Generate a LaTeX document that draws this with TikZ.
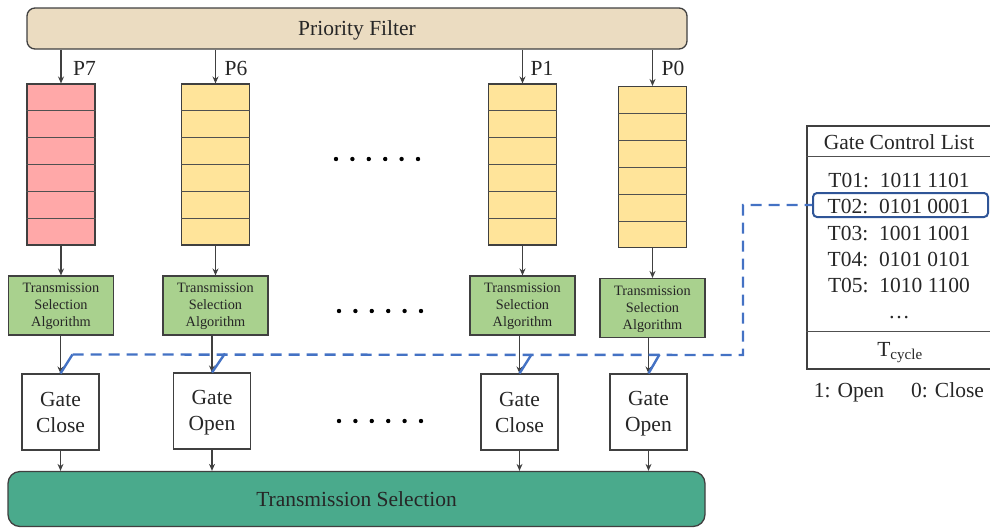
\documentclass[tikz,border=0pt]{standalone}
\usepackage{fontspec}
\setmainfont{Liberation Serif}[Ligatures=TeX]
\usetikzlibrary{arrows.meta,calc}
\definecolor{filtertan}{HTML}{EBDCC1}
\definecolor{queuepink}{HTML}{FFA8A8}
\definecolor{queueyellow}{HTML}{FFE49A}
\definecolor{tsagreen}{HTML}{A9D18E}
\definecolor{selteal}{HTML}{4AAA8C}
\definecolor{edgegray}{HTML}{404040}
\definecolor{cellgray}{HTML}{505050}
\definecolor{textgray}{HTML}{262626}
\definecolor{linkblue}{HTML}{4472C4}
\definecolor{rowblue}{HTML}{2F5597}
% struts that keep every line of a box at the same height
\newcommand\gstrut{\rule[-3.8pt]{0pt}{22pt}}
\newcommand\tstrut{\rule[-2pt]{0pt}{14pt}}

\begin{document}
\begin{tikzpicture}[x=1pt,y=-1pt,
  big/.style={font=\fontsize{21.5}{26}\selectfont, text=textgray},
  bar/.style={draw=edgegray, line width=1.3pt, inner sep=0pt, big},
  queuebox/.style={draw=edgegray, line width=1.1pt, minimum width=68pt, minimum height=161pt, inner sep=0pt},
  tsabox/.style={draw=edgegray, line width=1.1pt, fill=tsagreen, minimum width=105pt, minimum height=59pt, inner sep=0pt, align=center, font=\fontsize{14.3}{17}\selectfont, text=textgray},
  gatebox/.style={draw=edgegray, line width=1.1pt, fill=white, minimum width=77pt, minimum height=76pt, inner sep=0pt, align=center, big},
  arr/.style={draw=edgegray, line width=1.1pt, -{Stealth[length=7pt,width=6pt]}},
  cellline/.style={draw=cellgray, line width=0.9pt},
  plabel/.style={big, inner sep=0pt},
  linksolid/.style={draw=linkblue, line width=2.4pt},
  linkdash/.style={draw=linkblue, line width=2.4pt, dash pattern=on 11pt off 7pt},
  gcltext/.style={big, anchor=base, inner sep=0pt},
]
\useasboundingbox (0,0) rectangle (990,528);

% priority filter and transmission selection bars
\node[bar, fill=filtertan, rounded corners=8pt, minimum width=660pt, minimum height=41pt] (pf) at (357,28.5) {\gstrut Priority Filter};
\node[bar, fill=selteal, rounded corners=12pt, minimum width=697pt, minimum height=55pt] (ts) at (356.5,499) {\gstrut Transmission Selection};

% queues
\node[queuebox, fill=queuepink]   (q7) at (61,164.5) {};
\node[queuebox, fill=queueyellow] (q6) at (215.5,164.5) {};
\node[queuebox, fill=queueyellow] (q1) at (522.5,164.5) {};
\node[queuebox, fill=queueyellow] (q0) at (652.5,167) {};
\foreach \q in {q7,q6,q1,q0}{
  \foreach \i in {1,...,5}{
    \draw[cellline] ($(\q.north west)!\i/6!(\q.south west)$) -- ($(\q.north east)!\i/6!(\q.south east)$);
  }
}

% priority labels
\node[plabel] (l7) at (84.5,68) {P7};
\node[plabel] (l6) at (236,68) {P6};
\node[plabel] (l1) at (542,68) {P1};
\node[plabel] (l0) at (673,68) {P0};

% transmission selection algorithms
\node[tsabox] (t7) at (61,305.5) {\tstrut Transmission\\\tstrut Selection\\\tstrut Algorithm};
\node[tsabox] (t6) at (215.5,305.5) {\tstrut Transmission\\\tstrut Selection\\\tstrut Algorithm};
\node[tsabox] (t1) at (522.5,305.5) {\tstrut Transmission\\\tstrut Selection\\\tstrut Algorithm};
\node[tsabox] (t0) at (652.5,308) {\tstrut Transmission\\\tstrut Selection\\\tstrut Algorithm};

% gates
\node[gatebox] (g7) at (60.5,412) {\gstrut Gate\\\gstrut Close};
\node[gatebox] (g6) at (212,411) {\gstrut Gate\\\gstrut Open};
\node[gatebox] (g1) at (519.5,412) {\gstrut Gate\\\gstrut Close};
\node[gatebox] (g0) at (648.5,412) {\gstrut Gate\\\gstrut Open};

% arrows
\foreach \q/\t/\g in {q7/t7/g7,q6/t6/g6,q1/t1/g1,q0/t0/g0}{
  \draw[arr] (pf.south -| \q.north) -- (\q.north);
  \draw[arr] (\q.south) -- (\t.north);
  \draw[arr] (\t.south -| \g.north) -- (\g.north);
  \draw[arr] (\g.south) -- (\g.south |- ts.north);
}

% ellipsis dots
\foreach \x/\y in {336/159, 339/311, 339/421}{
  \foreach \i in {0,...,5}{
    \fill (\x+16.4*\i,\y) circle (2.2);
  }
}

% gate control list
\node[draw=edgegray, line width=1.1pt, minimum width=195pt, minimum height=243pt, inner sep=0pt] (gcl) at (904.5,247.5) {};
\draw[cellline] ($(gcl.north west)+(0,31)$) -- ($(gcl.north east)+(0,31)$);
\draw[cellline] ($(gcl.south west)+(0,-38)$) -- ($(gcl.south east)+(0,-38)$);
\node[gcltext] (gh) at (899,149) {Gate Control List};
\node[gcltext] (r1) at (899,187) {T01:~~1011 1101};
\node[gcltext] (r2) at (899,213.5) {T02:~~0101 0001};
\node[gcltext] (r3) at (899,240) {T03:~~1001 1001};
\node[gcltext] (r4) at (899,266) {T04:~~0101 0101};
\node[gcltext] (r5) at (899,292) {T05:~~1010 1100};
\node[gcltext] (r6) at (899,318) {\dots};
\node[gcltext] (tc) at (900,356) {T\textsubscript{cycle}};
\node[gcltext] (k1) at (849,397) {1: Open};
\node[gcltext] (k0) at (947.5,397) {0: Close};

% highlighted entry
\node[draw=rowblue, line width=2pt, rounded corners=4pt, minimum width=175pt, minimum height=24pt, inner sep=0pt] (t02) at (900.5,205) {};

% control link from the list to the gates
\coordinate (bend) at (743,355);
\draw[linksolid] (g7.north) -- ++(12,-19) coordinate (b7);
\draw[linksolid] (g6.north) -- ++(13,-19) coordinate (b6);
\draw[linksolid] (g1.north) -- ++(12,-19) coordinate (b1);
\draw[linksolid] (g0.north) -- ++(11,-19) coordinate (b0);
\draw[linkdash] (b7) -- (bend) |- (t02.west);
\end{tikzpicture}
\end{document}
